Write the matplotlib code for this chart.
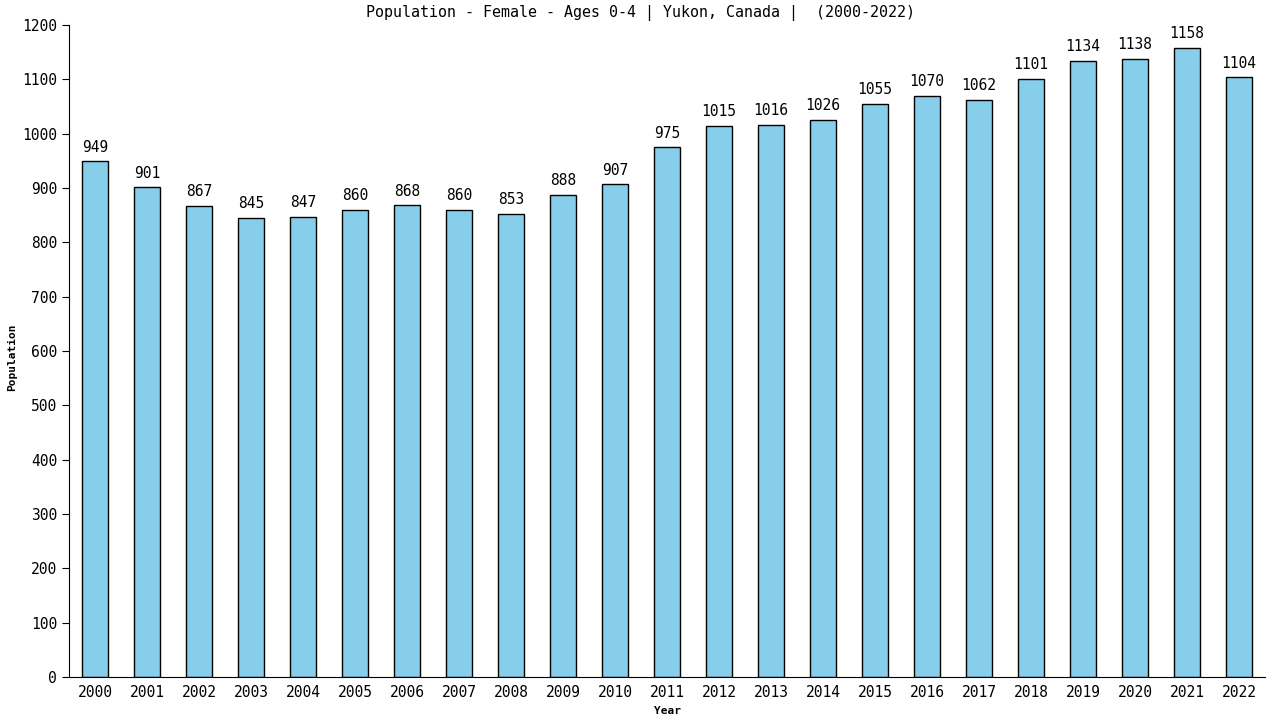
import matplotlib
matplotlib.use("Agg")
import matplotlib.pyplot as plt
import numpy as np

years = [str(y) for y in range(2000, 2023)]
values = [949, 901, 867, 845, 847, 860, 868, 860, 853, 888, 907, 975,
          1015, 1016, 1026, 1055, 1070, 1062, 1101, 1134, 1138, 1158, 1104]

plt.rcParams['font.family'] = 'DejaVu Sans Mono'

fig = plt.figure(figsize=(12.8, 7.2), dpi=100)
ax = fig.add_axes([69 / 1280, 1 - 677 / 720, 1196 / 1280, 652 / 720])

x = np.arange(len(years))
ax.bar(x, values, width=0.5, color='#87CEEB', edgecolor='black', linewidth=1)

for xi, v in zip(x, values):
    ax.text(xi, v + 12, str(v), ha='center', va='bottom', fontsize=10.5)

ax.set_xlim(-0.5, len(years) - 0.5)
ax.set_ylim(0, 1200)
ax.set_yticks(range(0, 1201, 100))
ax.set_xticks(x)
ax.set_xticklabels(years)
ax.tick_params(axis='x', length=0, labelsize=10.5, pad=6)
ax.tick_params(axis='y', length=5, labelsize=10.5)

for s in ['top', 'right']:
    ax.spines[s].set_visible(False)

ax.set_xlabel('Year', fontsize=8, fontweight='bold', labelpad=4)
ax.set_ylabel('Population', fontsize=8, fontweight='bold')
ax.yaxis.set_label_coords(-52 / 1196, 0.49)

# title centred on the whole figure, not the axes
fig.text(0.5, 1 - 13 / 720, 'Population - Female - Ages 0-4 | Yukon, Canada |  (2000-2022)',
         ha='center', va='center', fontsize=10.8)

fig.savefig('out.png', dpi=100)
